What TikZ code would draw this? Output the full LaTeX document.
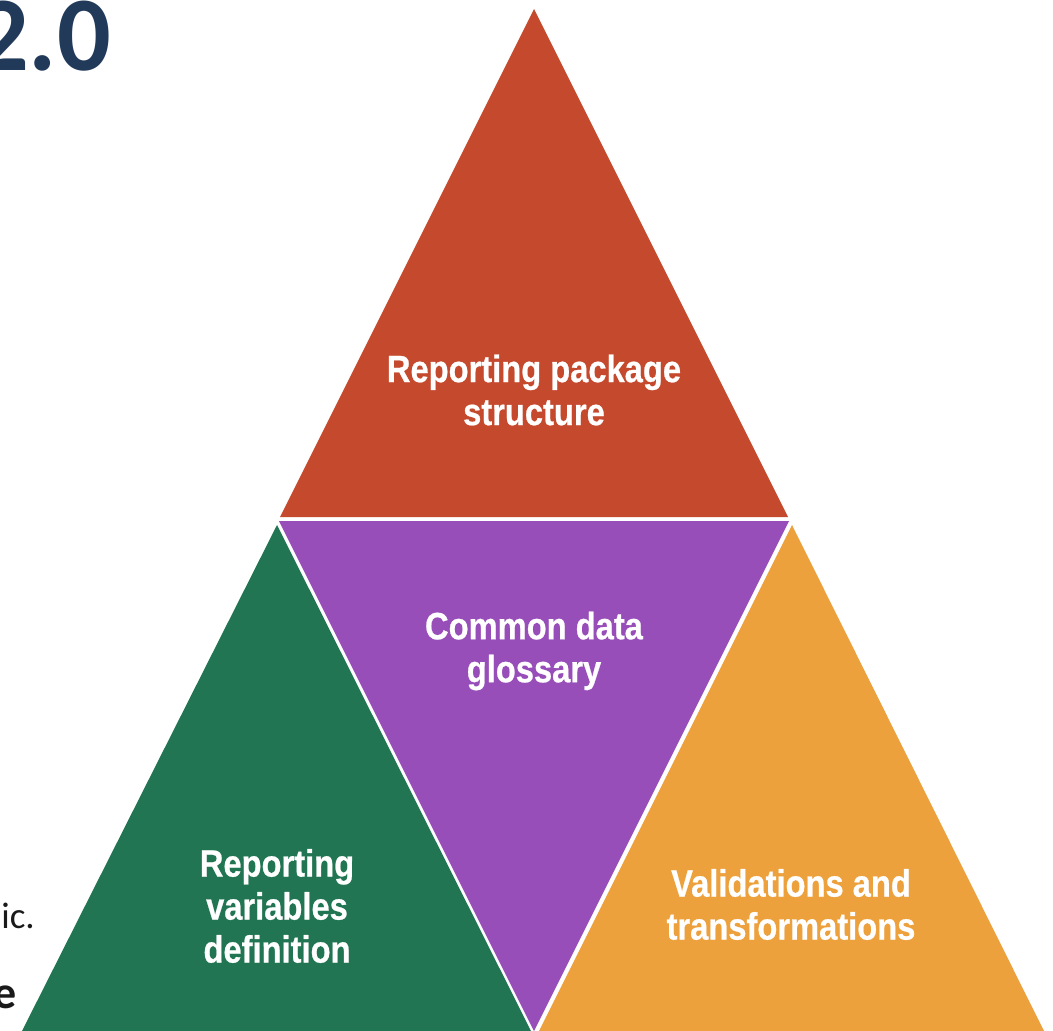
\documentclass[tikz,border=0pt]{standalone}
\usepackage{fontspec}
\newfontfamily\labelfont[FakeStretch=0.86, BoldFeatures={FakeBold=0.6}]{Liberation Sans}
\newfontfamily\calfont{Carlito}
\definecolor{cred}{HTML}{C5492D}
\definecolor{cpurple}{HTML}{984EB8}
\definecolor{cgreen}{HTML}{217552}
\definecolor{corange}{HTML}{EDA13D}
\definecolor{ctitle}{HTML}{223A5A}
\definecolor{ctext}{HTML}{1A1A1A}
\tikzset{
  tri label/.style={text=white, align=center, inner sep=0pt,
    font=\labelfont\bfseries\fontsize{38}{43}\selectfont},
}
\begin{document}
\begin{tikzpicture}[x=1pt,y=-1pt]
\useasboundingbox (0,0) rectangle (1053,1031);
\clip (0,0) rectangle (1053,1031);
\fill[white] (0,0) rectangle (1053,1031);
% triangles
\fill[cred] (534,9) -- (280,517) -- (788,517) -- cycle;
\fill[cpurple] (279,521) -- (789,521) -- (534,1031) -- cycle;
\fill[cgreen] (277,525) -- (22,1031) -- (531,1031) -- cycle;
\fill[corange] (792,525) -- (539,1031) -- (1044,1031) -- cycle;
% labels
\node[tri label] (top) at (534,390) {Reporting package\\structure};
\node[tri label] (mid) at (534,651) {Common data\\glossary};
\node[tri label] (left) at (277,906) {Reporting\\variables\\definition};
\node[tri label] (right) at (791,904.5) {Validations and\\transformations};
% cut-off slide text
\node[anchor=base east, inner sep=0pt, text=ctitle, font=\calfont\bfseries\fontsize{106}{106}\selectfont] (title) at (111,70) {2.0};
\node[anchor=base east, inner sep=0pt, text=ctext, font=\calfont\fontsize{37}{37}\selectfont] (ic) at (35,928) {ic.};
\node[anchor=base east, inner sep=0pt, text=ctext, font=\calfont\bfseries\fontsize{46}{46}\selectfont] (e) at (17,1008) {e};
\end{tikzpicture}
\end{document}
